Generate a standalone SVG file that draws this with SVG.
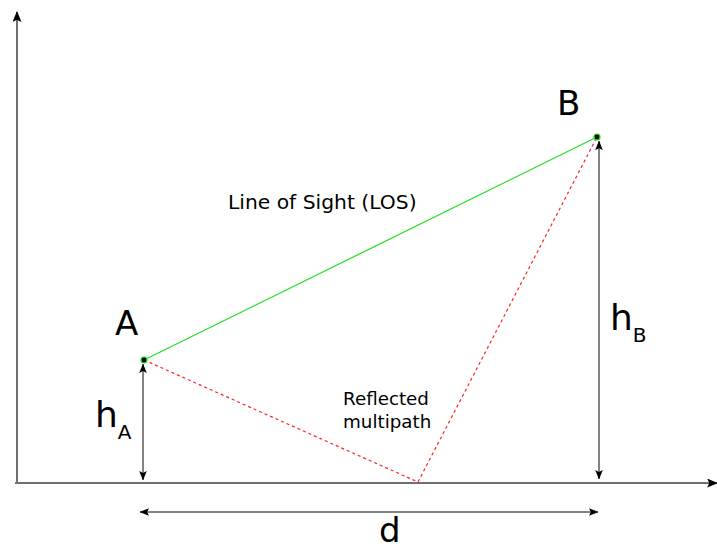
<svg xmlns="http://www.w3.org/2000/svg" width="717" height="550" viewBox="0 0 717 550">
  <style>
    .lbl { font-family: "DejaVu Sans", Verdana, sans-serif; fill: #000; }
    .big { font-size: 34px; }
    .hh { font-size: 36px; }
    .txt { font-size: 20.3px; }
    .txt2 { font-size: 18.3px; }
    .axis { stroke: #707070; stroke-width: 2; fill: none; }
    .dim { stroke: #5a5a5a; stroke-width: 1.5; fill: none; }
    .los { stroke: #22dd22; stroke-width: 1.2; fill: none; }
    .refl { stroke: #ff2020; stroke-width: 1.2; stroke-dasharray: 3 3; fill: none; }
  </style>
  <defs>
    <marker id="arrBig" viewBox="0 0 12 10" refX="11" refY="5" markerWidth="12" markerHeight="9" markerUnits="userSpaceOnUse" orient="auto">
      <path d="M0,0 L12,5 L0,10 L2.5,5 Z" fill="#000"/>
    </marker>
    <marker id="arrSmall" viewBox="0 0 10 8" refX="9.5" refY="4" markerWidth="9.5" markerHeight="8" markerUnits="userSpaceOnUse" orient="auto-start-reverse">
      <path d="M0,0 L10,4 L0,8 L2,4 Z" fill="#000"/>
    </marker>
  </defs>

  <g id="connectors">
    <line id="y-axis" class="axis" x1="17" y1="483" x2="17" y2="12" marker-end="url(#arrBig)"/>
    <line id="x-axis" class="axis" x1="15" y1="483" x2="717" y2="483" marker-end="url(#arrBig)"/>
    <line id="los-line" class="los" x1="144" y1="360" x2="597" y2="137"/>
    <polyline id="reflected-path" class="refl" points="144,360 418,482 597,137"/>
    <line id="hA-dim" class="dim" x1="143" y1="364" x2="143" y2="480" marker-start="url(#arrSmall)" marker-end="url(#arrSmall)"/>
    <line id="hB-dim" class="dim" x1="599" y1="141" x2="599" y2="479" marker-start="url(#arrSmall)" marker-end="url(#arrSmall)"/>
    <line id="d-dim" class="dim" x1="140" y1="512" x2="598" y2="512" marker-start="url(#arrSmall)" marker-end="url(#arrSmall)"/>
  </g>

  <g id="node-A">
    <circle cx="144" cy="360" r="3" fill="#000" stroke="#22dd22" stroke-width="1.2"/>
    <text class="lbl big" x="115" y="335">A</text>
  </g>
  <g id="node-B">
    <circle cx="597" cy="137" r="3" fill="#000" stroke="#22dd22" stroke-width="1.2"/>
    <text class="lbl big" x="557" y="115">B</text>
  </g>
  <g id="label-hA">
    <text class="lbl hh" x="95" y="427">h<tspan dy="12" font-size="20">A</tspan></text>
  </g>
  <g id="label-hB">
    <text class="lbl hh" x="610" y="330">h<tspan dy="12" font-size="20">B</tspan></text>
  </g>
  <g id="label-d">
    <text class="lbl big" x="379" y="542">d</text>
  </g>
  <g id="label-los">
    <text class="lbl txt" x="228" y="209">Line of Sight (LOS)</text>
  </g>
  <g id="label-reflected">
    <text class="lbl txt2" x="343" y="405">Reflected</text>
    <text class="lbl txt2" x="343" y="428">multipath</text>
  </g>
</svg>
